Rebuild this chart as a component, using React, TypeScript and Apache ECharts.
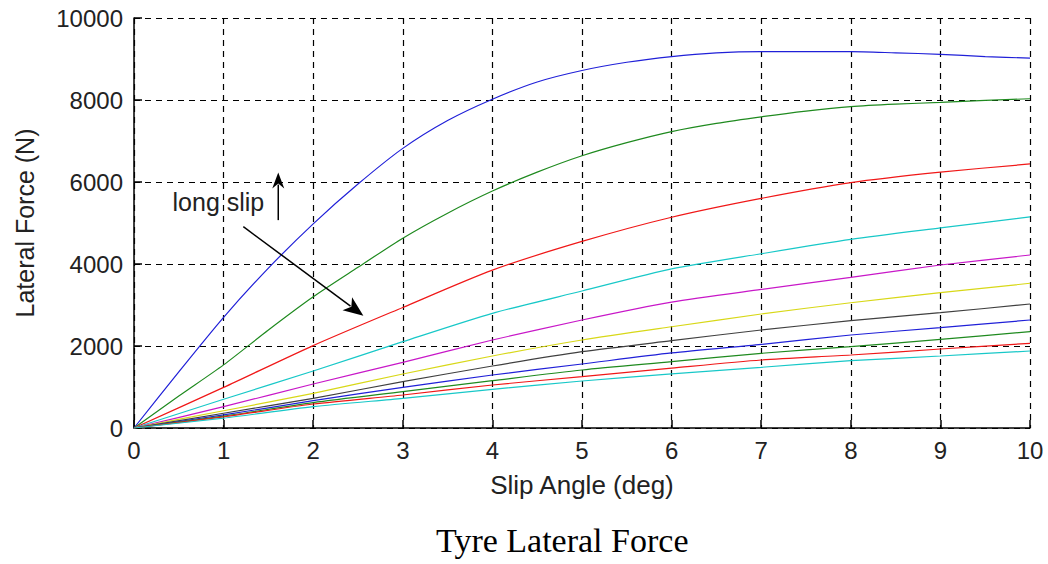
import React, { useEffect, useRef } from "react";
import * as echarts from "echarts";

const X_HALF = [0, 0.5, 1, 1.5, 2, 2.5, 3, 3.5, 4, 4.5, 5, 5.5, 6, 6.5, 7, 7.5, 8, 8.5, 9, 9.5, 10];
const X_INT = [0, 1, 2, 3, 4, 5, 6, 7, 8, 9, 10];

const blue1 = [0, 1370, 2700, 3900, 4980, 5950, 6820, 7500, 8020, 8440, 8720, 8920, 9060, 9150, 9180, 9180, 9180, 9150, 9115, 9060, 9020];
const green1 = [0, 780, 1540, 2390, 3200, 3920, 4630, 5240, 5780, 6240, 6640, 6960, 7230, 7430, 7590, 7730, 7840, 7900, 7940, 7990, 8030];
const red1 = [0, 990, 2010, 2940, 3850, 4550, 5140, 5600, 5985, 6240, 6440];
const cyan1 = [0, 700, 1390, 2105, 2797, 3341, 3880, 4250, 4600, 4880, 5150];
const magenta1 = [0, 520, 1073, 1602, 2146, 2634, 3070, 3380, 3675, 3975, 4220];
const yellow1 = [0, 420, 846, 1317, 1756, 2146, 2470, 2780, 3055, 3300, 3530];
const black1 = [0, 360, 724, 1130, 1512, 1861, 2130, 2390, 2617, 2812, 3025];
const blue2 = [0, 320, 666, 992, 1293, 1561, 1830, 2040, 2268, 2447, 2634];
const green2 = [0, 290, 618, 886, 1154, 1415, 1617, 1822, 1983, 2163, 2350];
const red2 = [0, 270, 585, 805, 1049, 1252, 1460, 1658, 1780, 1927, 2066];
const cyan2 = [0, 240, 520, 724, 943, 1146, 1320, 1480, 1641, 1756, 1878];

const X_TICKS = [0, 1, 2, 3, 4, 5, 6, 7, 8, 9, 10];
const Y_TICKS = [0, 2000, 4000, 6000, 8000, 10000];

const SERIES = [
  { xs: X_HALF, ys: blue1, color: "#2020d8" },
  { xs: X_HALF, ys: green1, color: "#1f8a1f" },
  { xs: X_INT, ys: red1, color: "#f01818" },
  { xs: X_INT, ys: cyan1, color: "#18c8c8" },
  { xs: X_INT, ys: magenta1, color: "#c818c8" },
  { xs: X_INT, ys: yellow1, color: "#d8d818" },
  { xs: X_INT, ys: black1, color: "#404040" },
  { xs: X_INT, ys: blue2, color: "#2020d8" },
  { xs: X_INT, ys: green2, color: "#1f8a1f" },
  { xs: X_INT, ys: red2, color: "#f01818" },
  { xs: X_INT, ys: cyan2, color: "#18c8c8" },
];

const ANNOT_TEXT = "long slip";
const ANNOT_TEXT_POS = [0.43, 5520];
const UP_ARROW = [[1.61, 5070], [1.61, 6230]];
const DIAG_ARROW = [[1.22, 4910], [2.56, 2740]];

const FONT = "Liberation Sans, Arial, sans-serif";

export default function App() {
  const ref = useRef<HTMLDivElement>(null);
  useEffect(() => {
    if (!ref.current) return;
    const chart = echarts.init(ref.current, null, { renderer: "svg" });
    const dashed = { show: true, lineStyle: { color: "#000", type: [6, 5] as any, width: 1.2 } };
    chart.setOption({
      animation: false,
      backgroundColor: "#fff",
      grid: { left: 134, right: 18, top: 18, bottom: 136, containLabel: false },
      title: {
        text: "Tyre Lateral Force",
        left: 431,
        top: 518,
        textStyle: { fontFamily: "Liberation Serif, serif", fontWeight: "normal", fontSize: 34, color: "#000" },
      },
      xAxis: {
        type: "value",
        min: 0,
        max: 10,
        interval: 1,
        name: "Slip Angle (deg)",
        nameLocation: "middle",
        nameGap: 44,
        nameTextStyle: { fontFamily: FONT, fontSize: 26, color: "#222" },
        axisLine: { show: true, lineStyle: { color: "#000", width: 1.5 } },
        axisTick: { show: true, inside: true, length: 8, lineStyle: { color: "#000", width: 1.5 } },
        axisLabel: {
          fontFamily: FONT,
          fontSize: 24,
          color: "#222",
          margin: 10,
          formatter: (v: number) => (X_TICKS.includes(v) ? String(v) : ""),
        },
        splitLine: dashed,
      },
      yAxis: {
        type: "value",
        min: 0,
        max: 10000,
        interval: 2000,
        name: "Lateral Force (N)",
        nameLocation: "middle",
        nameGap: 97,
        nameTextStyle: { fontFamily: FONT, fontSize: 25, color: "#222" },
        axisLine: { show: true, lineStyle: { color: "#000", width: 1.5 } },
        axisTick: { show: true, inside: true, length: 8, lineStyle: { color: "#000", width: 1.5 } },
        axisLabel: {
          fontFamily: FONT,
          fontSize: 24,
          color: "#222",
          margin: 11,
          formatter: (v: number) => (Y_TICKS.includes(v) ? String(v) : ""),
        },
        splitLine: dashed,
      },
      series: SERIES.map((s) => ({
        type: "line",
        data: s.xs.map((x, i) => [x, s.ys[i]]),
        showSymbol: false,
        smooth: 0.25,
        lineStyle: { color: s.color, width: 1.2 },
        itemStyle: { color: s.color },
        z: 3,
      })),
    });

    const px = (p: number[]) => chart.convertToPixel({ gridIndex: 0 }, p) as number[];
    const arrow = (a: number[], b: number[], hl: number, hw: number) => {
      const p0 = px(a);
      const p1 = px(b);
      const dx = p1[0] - p0[0];
      const dy = p1[1] - p0[1];
      const len = Math.hypot(dx, dy);
      const ux = dx / len;
      const uy = dy / len;
      const bx = p1[0] - ux * hl;
      const by = p1[1] - uy * hl;
      return [
        {
          type: "line",
          shape: { x1: p0[0], y1: p0[1], x2: bx + ux * 4, y2: by + uy * 4 },
          style: { stroke: "#000", lineWidth: 1.5 },
          z: 10,
        },
        {
          type: "polygon",
          shape: {
            points: [
              [p1[0], p1[1]],
              [bx - uy * hw, by + ux * hw],
              [bx + ux * 5, by + uy * 5],
              [bx + uy * hw, by - ux * hw],
            ],
          },
          style: { fill: "#000" },
          z: 10,
        },
      ];
    };
    const tp = px(ANNOT_TEXT_POS);
    chart.setOption({
      graphic: [
        {
          type: "text",
          x: tp[0],
          y: tp[1],
          style: {
            text: ANNOT_TEXT,
            fontFamily: FONT,
            fontSize: 25,
            fill: "#222",
            align: "left",
            verticalAlign: "middle",
          },
          z: 10,
        },
        ...arrow(UP_ARROW[0], UP_ARROW[1], 16, 6),
        ...arrow(DIAG_ARROW[0], DIAG_ARROW[1], 20, 8),
      ],
    });
    return () => chart.dispose();
  }, []);
  return (
    <div
      ref={ref}
      style={{ position: "fixed", left: 0, top: 0, width: 1048, height: 564, background: "#fff" }}
    />
  );
}
